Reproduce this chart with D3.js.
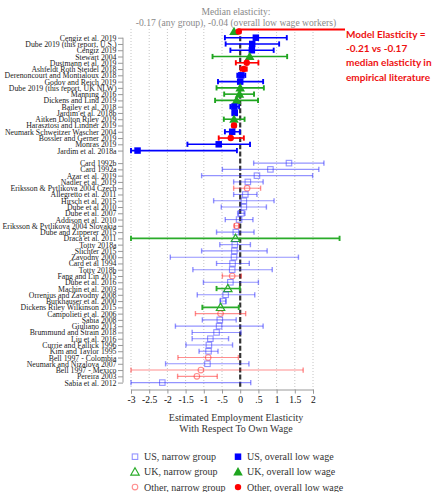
<!DOCTYPE html>
<html>
<head>
<meta charset="utf-8">
<script src="https://cdn.jsdelivr.net/npm/d3@7/dist/d3.min.js"></script>
<style>
  html, body { margin: 0; padding: 0; background: #fff; }
  svg { display: block; }
</style>
</head>
<body>
<svg id="chart" width="438" height="492"></svg>
<script>
// Studies estimating the employment elasticity for the overall low-wage workforce
const overallStudies = [
  "Cengiz et al. 2019", "Dube 2019 (this report, U.S.)", "Cengiz 2019", "Stewart 2004",
  "Dustmann et al. 2019", "Ashfeldt Roth Steidel 2018", "Derenoncourt and Montialoux 2018",
  "Godoy and Reich 2019", "Dube 2019 (this report, UK NLW)", "Manning 2016",
  "Dickens and Lind 2019", "Bailey et al. 2018", "Jardim et al. 2018b",
  "Aitken Dolton Riley 2019", "Harasztosi and Lindner 2019", "Neumark Schweitzer Wascher 2004",
  "Bossler and Gerner 2019", "Monras 2019", "Jardim et al. 2018a"
];
const overallEst = [0.43, 0.33, 0.32, 0.26, 0.18, 0.10, 0.03, 0.00, 0.00, -0.02, -0.10, -0.16, -0.15, -0.17, -0.17, -0.22, -0.26, -0.59, -2.82];
const overallLo  = [-0.42, -0.40, -0.27, -0.76, -0.12, 0.01, -0.08, -0.61, -0.65, -0.44, -0.69, -0.27, -0.21, -0.45, -0.21, -0.42, -0.59, -1.45, -3.00];
const overallHi  = [1.28, 1.07, 0.92, 1.29, 0.50, 0.18, 0.14, 0.63, 0.65, 0.38, 0.49, -0.03, -0.09, 0.12, -0.13, -0.01, 0.10, 0.27, -0.09];
const overallCountry = ["US", "US", "US", "UK", "Other", "Other", "US", "US", "UK", "UK", "UK", "US", "US", "UK", "Other", "US", "Other", "US", "US"];

// Studies estimating the elasticity for a narrow group of workers
const narrowStudies = [
  "Card 1992b", "Card 1992a", "Azar et al. 2019", "Nadler et al. 2019",
  "Eriksson & Pytlikova 2004 Czech", "Allegretto et al. 2011", "Hirsch et al. 2015",
  "Dube et al 2010", "Dube et al. 2007", "Addison et al. 2010",
  "Eriksson & Pytlikova 2004 Slovakia", "Dube and Zipperer 2015", "Draca et al. 2011",
  "Totty 2018a", "Slichter 2015", "Zavodny 2000", "Card et al 1994", "Totty 2018b",
  "Fang and Lin 2015", "Dube et al. 2016", "Machin et al. 2003", "Orrenius and Zavodny 2008",
  "Burkhauser et al. 2000", "Dickens Riley Wilkinson 2015", "Campolieti et al. 2006",
  "Sabia 2008", "Giuliano 2013", "Brummund and Strain 2018", "Liu et al. 2016",
  "Currie and Fallick 1996", "Kim and Taylor 1995", "Bell 1997 - Colombia",
  "Neumark and Nizalova 2007", "Bell 1997 - Mexico", "Pereira 2003", "Sabia et al. 2012"
];
const narrowEst = [1.34, 0.83, 0.46, 0.21, 0.19, 0.14, 0.10, 0.10, 0.03, -0.03, -0.10, -0.12, -0.13, -0.15, -0.16, -0.17, -0.21, -0.22, -0.22, -0.27, -0.34, -0.40, -0.47, -0.54, -0.54, -0.56, -0.58, -0.65, -0.82, -0.86, -0.87, -0.88, -0.90, -1.08, -1.19, -2.14];
const narrowLo  = [0.37, -0.49, -1.06, -0.18, -0.18, -0.18, -0.73, -0.52, -0.07, -0.41, -0.16, -0.65, -3.00, -0.56, -1.06, -1.92, -0.65, -1.30, -0.49, -1.01, -0.65, -1.18, -0.55, -1.04, -1.23, -1.04, -1.78, -1.32, -1.32, -1.49, -1.13, -1.71, -2.05, -3.00, -1.72, -3.00];
const narrowHi  = [2.30, 2.16, 1.99, 0.63, 0.56, 0.46, 0.93, 0.72, 0.13, 0.35, -0.04, 0.38, 2.73, 0.28, 0.74, 1.60, 0.25, 0.88, 0.03, 0.50, -0.01, 0.40, -0.39, -0.04, 0.15, -0.11, 0.63, 0.02, -0.32, -0.21, -0.61, -0.05, 0.24, 1.73, -0.63, 0.29];
const narrowCountry = ["US", "US", "US", "US", "Other", "US", "US", "US", "US", "US", "Other", "US", "UK", "US", "US", "US", "US", "US", "Other", "US", "UK", "US", "US", "UK", "Other", "US", "US", "US", "US", "US", "US", "Other", "US", "Other", "Other", "US"];

// Median elasticities shown in the header row
const medianAny = -0.17;
const medianOverall = -0.04;

const xTicks = [-3, -2.5, -2, -1.5, -1, -0.5, 0, 0.5, 1, 1.5, 2];
const xTickLabels = ["-3", "-2.5", "-2", "-1.5", "-1", "-.5", "0", ".5", "1", "1.5", "2"];

const legendItems = [
  { label: "US, narrow group", country: "US", scope: "narrow" },
  { label: "US, overall low wage", country: "US", scope: "overall" },
  { label: "UK, narrow group", country: "UK", scope: "narrow" },
  { label: "UK, overall low wage", country: "UK", scope: "overall" },
  { label: "Other, narrow group", country: "Other", scope: "narrow" },
  { label: "Other, overall low wage", country: "Other", scope: "overall" }
];

const noteLines = ["Model Elasticity =", "-0.21 vs -0.17", "median elasticity in", "empirical literature"];

// ---- assemble rows: overall studies first, one blank slot, then narrow-group studies
const rows = [];
overallStudies.forEach((s, i) => rows.push({
  study: s, est: overallEst[i], lo: overallLo[i], hi: overallHi[i],
  country: overallCountry[i], scope: "overall", slot: i
}));
narrowStudies.forEach((s, i) => rows.push({
  study: s, est: narrowEst[i], lo: narrowLo[i], hi: narrowHi[i],
  country: narrowCountry[i], scope: "narrow", slot: overallStudies.length + 1 + i
}));
const lastSlot = overallStudies.length + narrowStudies.length;

const svg = d3.select("#chart");
const serif = "'Liberation Serif', 'DejaVu Serif', serif";

const x = d3.scaleLinear().domain([-3, 2]).range([131, 313]);
const y = d3.scaleLinear().domain([0, lastSlot]).range([37.7, 382.6]);
const plotTop = 29, plotBottom = 389.5;

const colour = {
  US:    { overall: "#0000ff", narrow: "rgba(40,40,255,0.5)" },
  UK:    { overall: "#1fa51f", narrow: "#2aac2a" },
  Other: { overall: "#ff0000", narrow: "rgba(255,30,30,0.5)" }
};

// ---- header
svg.append("text").attr("x", 236).attr("y", 15).attr("text-anchor", "middle")
  .attr("font-family", serif).attr("font-size", 9.6).attr("fill", "#8a8a8a")
  .text("Median elasticity:");
svg.append("text").attr("x", 236).attr("y", 25.5).attr("text-anchor", "middle")
  .attr("font-family", serif).attr("font-size", 9.6).attr("fill", "#8a8a8a")
  .text("-0.17 (any group), -0.04 (overall low wage workers)");

// ---- vertical dotted gridlines
svg.append("g").selectAll("line").data(xTicks.filter(t => t !== 0)).join("line")
  .attr("x1", d => x(d)).attr("x2", d => x(d))
  .attr("y1", plotTop).attr("y2", plotBottom)
  .attr("stroke", "#b5b5b5").attr("stroke-width", 0.8).attr("stroke-dasharray", "1,2");

// ---- x axis
const xAxis = d3.axisBottom(x).tickValues(xTicks)
  .tickFormat((d, i) => xTickLabels[i]).tickSize(4).tickPadding(3);
const gx = svg.append("g").attr("transform", `translate(0,${plotBottom})`).call(xAxis);
gx.select(".domain").attr("stroke", "#999").attr("stroke-width", 1);
gx.selectAll(".tick line").attr("stroke", "#999");
gx.selectAll("text").attr("font-family", serif).attr("font-size", 9.6).attr("fill", "#111");

svg.append("text").attr("x", 236).attr("y", 421).attr("text-anchor", "middle")
  .attr("font-family", serif).attr("font-size", 10).attr("fill", "#333")
  .text("Estimated Employment Elasticity");
svg.append("text").attr("x", 236).attr("y", 432).attr("text-anchor", "middle")
  .attr("font-family", serif).attr("font-size", 10).attr("fill", "#333")
  .text("With Respect To Own Wage");

// ---- y axis with study labels
const yAxis = d3.axisLeft(y).tickValues(rows.map(r => r.slot))
  .tickFormat((d, i) => rows[i].study).tickSize(5).tickPadding(1.5);
const gy = svg.append("g").attr("transform", "translate(123,0)").call(yAxis);
gy.select(".domain").attr("stroke", "#999").attr("d", `M0,${y(0)}V${y(lastSlot)}`);
gy.selectAll(".tick line").attr("stroke", "#999");
gy.selectAll("text").attr("font-family", serif).attr("font-size", 7.8).attr("fill", "#222");

// ---- zero reference line
svg.append("line").attr("x1", x(0)).attr("x2", x(0))
  .attr("y1", plotTop).attr("y2", plotBottom - 1)
  .attr("stroke", "#333").attr("stroke-width", 2.2).attr("stroke-dasharray", "5,2.2");

// ---- marker drawing
const tri = (cx, cy, s) => `M${cx},${cy - s * 0.6}L${cx + s * 0.6},${cy + s * 0.45}L${cx - s * 0.6},${cy + s * 0.45}Z`;
function drawMarker(g, cx, cy, country, scope) {
  const c = colour[country][scope];
  const filled = scope === "overall";
  if (country === "US") {
    const s = filled ? 6.5 : 5.5;
    g.append("rect").attr("x", cx - s / 2).attr("y", cy - s / 2).attr("width", s).attr("height", s)
      .attr("fill", filled ? c : "none").attr("stroke", c).attr("stroke-width", filled ? 0 : 1.1);
  } else if (country === "UK") {
    g.append("path").attr("d", tri(cx, cy, filled ? 8 : 7))
      .attr("fill", filled ? c : "none").attr("stroke", c).attr("stroke-width", filled ? 0 : 1.2);
  } else {
    g.append("circle").attr("cx", cx).attr("cy", cy).attr("r", filled ? 3.2 : 2.8)
      .attr("fill", filled ? c : "none").attr("stroke", c).attr("stroke-width", filled ? 0 : 1.1);
  }
}

// ---- confidence intervals and point estimates
const marks = svg.append("g");
rows.forEach(r => {
  const g = marks.append("g");
  const c = colour[r.country][r.scope];
  const cy = y(r.slot);
  const w = r.scope === "overall" ? 1.6 : (r.country === "UK" ? 1.6 : 1.1);
  g.append("line").attr("x1", x(r.lo)).attr("x2", x(r.hi)).attr("y1", cy).attr("y2", cy)
    .attr("stroke", c).attr("stroke-width", w);
  [r.lo, r.hi].forEach(v => g.append("line")
    .attr("x1", x(v)).attr("x2", x(v)).attr("y1", cy - 2.6).attr("y2", cy + 2.6)
    .attr("stroke", c).attr("stroke-width", w + 0.3));
  drawMarker(g, x(r.est), cy, r.country, r.scope);
});

// ---- median markers in the header row
drawMarker(svg, x(medianAny), y(-1), "UK", "overall");
drawMarker(svg, x(medianOverall), y(-1), "Other", "overall");

// ---- annotation
svg.append("path")
  .attr("d", `M${x(medianOverall) + 0.5},${y(-1) + 2}V29.5H345`)
  .attr("fill", "none").attr("stroke", "#f00").attr("stroke-width", 2);
const note = svg.append("text").attr("font-family", "Lato, 'Open Sans', sans-serif")
  .attr("font-weight", "bold").attr("font-size", 10).attr("fill", "#ee1111");
noteLines.forEach((t, i) => note.append("tspan").attr("x", 346).attr("y", 38 + i * 14.2).text(t));

// ---- legend
const legend = svg.append("g");
legendItems.forEach((d, i) => {
  const col = i % 2, row = Math.floor(i / 2);
  const mx = col === 0 ? 135 : 238;
  const my = 456.7 + row * 15.2;
  drawMarker(legend, mx, my, d.country, d.scope);
  legend.append("text").attr("x", mx + 9).attr("y", my + 3.5)
    .attr("font-family", serif).attr("font-size", 10).attr("fill", "#333").text(d.label);
});
</script>
</body>
</html>
